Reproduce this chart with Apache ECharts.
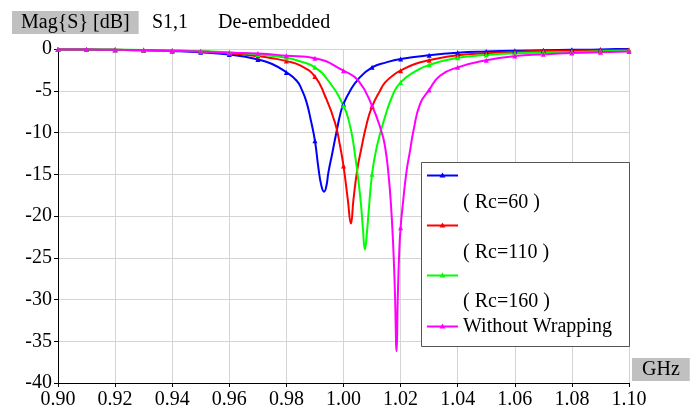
<!DOCTYPE html>
<html>
<head>
<meta charset="utf-8">
<title>S1,1 De-embedded</title>
<script src="https://cdn.jsdelivr.net/npm/echarts@6/dist/echarts.min.js"></script>
<style>
  html, body { margin: 0; padding: 0; background: #fff; }
  #chart { width: 700px; height: 412px; }
</style>
</head>
<body>
<div id="chart"></div>
<script>
// frequency (GHz) and Mag{S11} (dB)
var freqRc60 = [0.90, 0.91, 0.92, 0.93, 0.94, 0.95, 0.96, 0.965, 0.97, 0.975, 0.98, 0.9836, 0.9853, 0.987, 0.9886, 0.99, 0.9912, 0.9922, 0.9932, 0.994, 0.9947, 0.996, 0.9975, 0.999, 1.00, 1.002, 1.0052, 1.01, 1.015, 1.02, 1.03, 1.04, 1.05, 1.06, 1.07, 1.08, 1.09, 1.10];
var magRc60 = [-0.05, -0.07, -0.1, -0.15, -0.25, -0.4, -0.65, -0.9, -1.25, -1.8, -2.8, -3.8, -4.8, -6.3, -8.6, -11.0, -14.2, -16.3, -17.1, -16.4, -14.8, -12.6, -10.0, -7.6, -6.6, -5.2, -3.6, -2.2, -1.6, -1.2, -0.75, -0.45, -0.3, -0.2, -0.15, -0.1, -0.05, 0.05];

var freqRc110 = [0.90, 0.91, 0.92, 0.93, 0.94, 0.95, 0.96, 0.97, 0.975, 0.98, 0.985, 0.99, 0.9935, 0.997, 0.9988, 1.00, 1.0015, 1.0026, 1.0035, 1.0048, 1.0062, 1.0081, 1.01, 1.0128, 1.0146, 1.018, 1.02, 1.025, 1.03, 1.04, 1.05, 1.06, 1.07, 1.08, 1.09, 1.10];
var magRc110 = [-0.05, -0.07, -0.1, -0.15, -0.2, -0.3, -0.5, -0.85, -1.1, -1.45, -2.0, -3.3, -5.6, -8.8, -11.6, -14.0, -18.0, -20.9, -18.0, -14.5, -12.0, -9.0, -6.9, -5.0, -4.0, -3.0, -2.6, -1.8, -1.35, -0.75, -0.5, -0.35, -0.25, -0.2, -0.15, -0.1];

var freqRc160 = [0.90, 0.91, 0.92, 0.93, 0.94, 0.95, 0.96, 0.97, 0.98, 0.985, 0.99, 0.9947, 1.00, 1.002, 1.0036, 1.0058, 1.0068, 1.0075, 1.0082, 1.0088, 1.01, 1.0116, 1.0143, 1.0175, 1.02, 1.025, 1.03, 1.04, 1.05, 1.06, 1.07, 1.08, 1.09, 1.10];
var magRc160 = [-0.05, -0.07, -0.08, -0.12, -0.18, -0.25, -0.4, -0.65, -1.05, -1.5, -2.2, -3.8, -6.8, -8.8, -11.6, -17.5, -21.5, -24.0, -22.0, -19.5, -15.0, -11.8, -8.4, -5.3, -4.0, -2.7, -1.9, -1.05, -0.72, -0.52, -0.42, -0.35, -0.28, -0.2];

var freqNoWrap = [0.90, 0.91, 0.92, 0.93, 0.94, 0.95, 0.96, 0.97, 0.98, 0.99, 1.00, 1.0052, 1.01, 1.0134, 1.0146, 1.0157, 1.0166, 1.0174, 1.018, 1.0186, 1.019, 1.0195, 1.02, 1.0209, 1.0221, 1.0233, 1.0245, 1.0268, 1.03, 1.0338, 1.04, 1.05, 1.06, 1.07, 1.08, 1.09, 1.10];
var magNoWrap = [-0.05, -0.07, -0.1, -0.12, -0.2, -0.3, -0.45, -0.55, -0.8, -1.1, -2.6, -3.8, -6.8, -10.0, -11.8, -14.8, -18.5, -23.5, -29.0, -36.2, -30.0, -24.5, -21.4, -18.2, -14.6, -12.2, -9.8, -6.6, -4.9, -3.2, -2.2, -1.35, -0.85, -0.64, -0.48, -0.38, -0.3];

var seriesNames = ['( Rc=60 )', '( Rc=110 )', '( Rc=160 )', 'Without Wrapping'];
var seriesColors = ['#0000ff', '#ff0000', '#00ff00', '#ff00ff'];
var seriesFreq = [freqRc60, freqRc110, freqRc160, freqNoWrap];
var seriesMag = [magRc60, magRc110, magRc160, magNoWrap];

var font = '"Liberation Serif", "Times New Roman", serif';

function toPairs(freq, mag) {
    var out = [];
    for (var i = 0; i < freq.length; i++) {
        out.push([freq[i], mag[i]]);
    }
    return out;
}

// markers only sit on the 10 MHz points
function markerSize(val) {
    var k = val[0] * 100;
    return Math.abs(k - Math.round(k)) < 1e-6 ? 5 : 0;
}

function buildSeries() {
    var list = [];
    for (var i = 0; i < seriesNames.length; i++) {
        list.push({
            name: seriesNames[i],
            type: 'line',
            data: toPairs(seriesFreq[i], seriesMag[i]),
            smooth: 0.5,
            symbol: 'triangle',
            symbolSize: markerSize,
            color: seriesColors[i],
            lineStyle: { width: 2, color: seriesColors[i] },
            itemStyle: { color: seriesColors[i] },
            animation: false
        });
    }
    return list;
}

// legend box drawn by hand: the first three entries have an empty first line
function buildLegend() {
    var left = 421, top = 162, w = 208, h = 184;
    var iconY = [13, 63, 113, 164];
    var textY = [40, 90, 139, 164];
    var els = [{
        type: 'rect',
        z: 100,
        shape: { x: left + 0.5, y: top + 0.5, width: w, height: h },
        style: { fill: '#fff', stroke: '#555', lineWidth: 1 }
    }];
    for (var i = 0; i < seriesNames.length; i++) {
        var y = top + iconY[i] + 0.5;
        els.push({
            type: 'line',
            z: 101,
            shape: { x1: left + 6, y1: y, x2: left + 37, y2: y },
            style: { stroke: seriesColors[i], lineWidth: 2 }
        });
        els.push({
            type: 'polygon',
            z: 102,
            shape: { points: [[left + 21.5, y - 3], [left + 24.5, y + 2], [left + 18.5, y + 2]] },
            style: { fill: seriesColors[i] }
        });
        els.push({
            type: 'text',
            z: 102,
            style: {
                text: seriesNames[i], x: left + 42, y: top + textY[i] + 1,
                fill: '#000', font: '20px ' + font, verticalAlign: 'middle'
            }
        });
    }
    return els;
}

function drawChart() {
    var myChart = echarts.init(document.getElementById('chart'));
    var titleStyle = { color: '#000', fontSize: 20, fontWeight: 'normal', fontFamily: font };
    var option = {
        backgroundColor: '#fff',
        animation: false,
        title: [
            { text: 'Mag{S} [dB]', left: 12, top: 11, padding: [2, 9, 1, 9], backgroundColor: '#c0c0c0', textStyle: titleStyle },
            { text: 'S1,1', left: 152, top: 11, padding: [2, 0, 1, 0], textStyle: titleStyle },
            { text: 'De-embedded', left: 218, top: 11, padding: [2, 0, 1, 0], textStyle: titleStyle },
            { text: 'GHz', left: 632, top: 358, padding: [2, 10, 1, 10], backgroundColor: '#c0c0c0', textStyle: titleStyle }
        ],
        grid: { left: 58, right: 71, top: 49, bottom: 29, containLabel: false },
        xAxis: {
            type: 'value',
            min: 0.9,
            max: 1.1,
            interval: 0.02,
            axisLine: { show: true, onZero: false, lineStyle: { color: '#000', width: 1 } },
            axisTick: { show: true, length: 4, lineStyle: { color: '#000' } },
            axisLabel: {
                margin: 7, color: '#000', fontSize: 20, fontFamily: font,
                formatter: function(v) { return v.toFixed(2); }
            },
            splitLine: { show: true, lineStyle: { color: '#d4d4d4', width: 1 } }
        },
        yAxis: {
            type: 'value',
            min: -40,
            max: 0,
            interval: 5,
            axisLine: { show: true, onZero: false, lineStyle: { color: '#000', width: 1 } },
            axisTick: { show: true, length: 4, lineStyle: { color: '#000' } },
            axisLabel: { margin: 6, color: '#000', fontSize: 20, fontFamily: font },
            splitLine: { show: true, lineStyle: { color: '#d4d4d4', width: 1 } }
        },
        graphic: buildLegend(),
        series: buildSeries()
    };
    myChart.setOption(option);
}

drawChart();
</script>
</body>
</html>
